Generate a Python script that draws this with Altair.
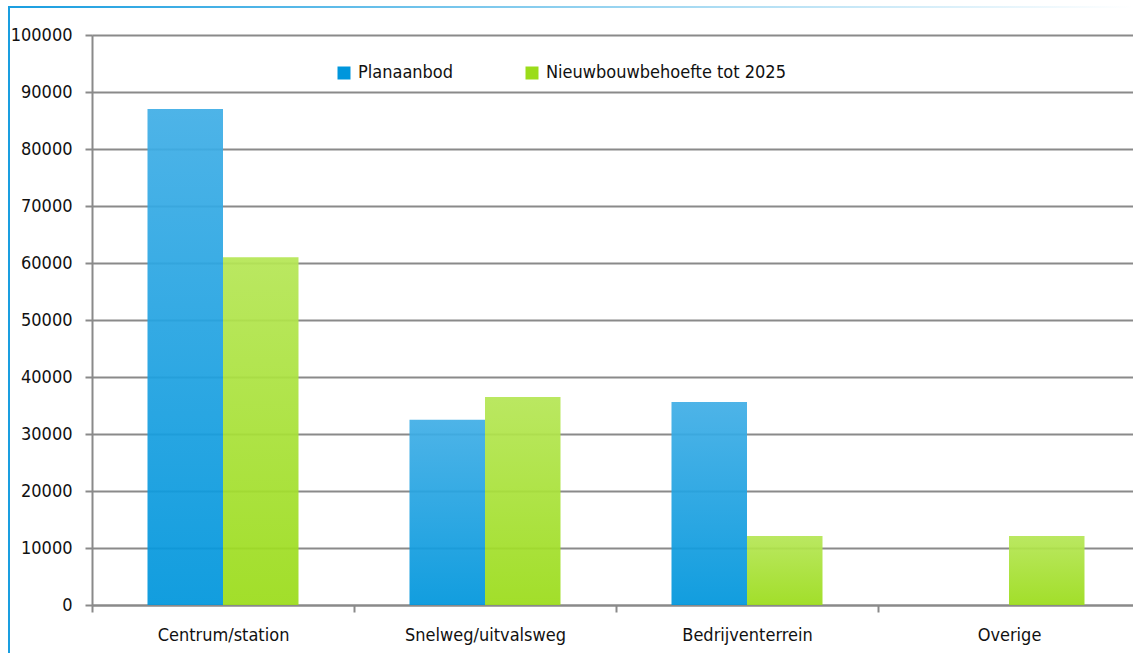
import altair as alt
import pandas as pd

# Floor space per location type (m²)
categories = ["Centrum/station", "Snelweg/uitvalsweg", "Bedrijventerrein", "Overige"]
series_names = ["Planaanbod", "Nieuwbouwbehoefte tot 2025"]
planaanbod = [87000, 32500, 35600, 0]
nieuwbouw = [61000, 36500, 12100, 12100]
y_ticks = [0, 10000, 20000, 30000, 40000, 50000, 60000, 70000, 80000, 90000, 100000]

rows = []
for cat, p, n in zip(categories, planaanbod, nieuwbouw):
    rows.append({"categorie": cat, "reeks": series_names[0], "waarde": p})
    rows.append({"categorie": cat, "reeks": series_names[1], "waarde": n})
df = pd.DataFrame(rows)

FONT = "Liberation Sans Narrow, DejaVu Sans Condensed, Roboto, sans-serif"
BLUE_TOP, BLUE_BOTTOM = "#40aee6", "#0096dc"
GREEN_TOP, GREEN_BOTTOM = "#b5e655", "#9bdc1a"

# visible plot width; the category bands run a little past the right edge
W, H = 1041, 570
BAND_RANGE = 1048

# category bands fill the axis so the ticks sit on the band boundaries;
# the gap around each bar pair comes from the offset scale's outer padding
x_enc = alt.X(
    "categorie:N",
    sort=categories,
    title=None,
    scale=alt.Scale(paddingInner=0, paddingOuter=0, range=[0, BAND_RANGE]),
    axis=alt.Axis(
        labelAngle=0,
        labelFont=FONT,
        labelFontSize=18,
        labelColor="#111111",
        labelPadding=14,
        tickBand="extent",
        tickSize=7,
        tickColor="#8a8a8a",
        tickWidth=2,
        domainColor="#8a8a8a",
        domainWidth=2,
        grid=False,
    ),
)
y_enc = alt.Y(
    "waarde:Q",
    title=None,
    scale=alt.Scale(domain=[0, 100000], nice=False),
    axis=alt.Axis(
        values=y_ticks,
        format="d",
        labelFont=FONT,
        labelFontSize=18,
        labelColor="#111111",
        labelPadding=13,
        tickSize=7,
        tickColor="#8a8a8a",
        tickWidth=2,
        domainColor="#8a8a8a",
        domainWidth=2,
        gridColor="#8a8a8a",
        gridWidth=2,
    ),
)
offset_enc = alt.XOffset("reeks:N", sort=series_names,
                         scale=alt.Scale(domain=series_names, paddingInner=0, paddingOuter=0.735))

base = alt.Chart(df)

# invisible bars that carry the legend
legend_bars = base.mark_bar(opacity=0).encode(
    x=x_enc,
    y=y_enc,
    xOffset=offset_enc,
    color=alt.Color(
        "reeks:N",
        sort=series_names,
        scale=alt.Scale(domain=series_names, range=[BLUE_BOTTOM, GREEN_BOTTOM]),
        legend=alt.Legend(
            title=None,
            orient="none",
            legendX=243,
            legendY=29,
            direction="horizontal",
            symbolType="square",
            symbolSize=169,
            symbolOpacity=1,
            symbolStrokeWidth=0,
            labelFont=FONT,
            labelFontSize=18,
            labelColor="#111111",
            labelOffset=5,
            labelLimit=500,
            columnPadding=69,
            padding=0,
        ),
    ),
)


def gradient(top, bottom):
    return alt.Gradient(
        gradient="linear",
        stops=[alt.GradientStop(color=top, offset=0), alt.GradientStop(color=bottom, offset=1)],
        x1=0, x2=0, y1=0, y2=1,
    )


blue_bars = base.transform_filter(alt.datum.reeks == series_names[0]).mark_bar(
    fill=gradient(BLUE_TOP, BLUE_BOTTOM), fillOpacity=0.93
).encode(x=x_enc, y=y_enc, xOffset=offset_enc)

green_bars = base.transform_filter(alt.datum.reeks == series_names[1]).mark_bar(
    fill=gradient(GREEN_TOP, GREEN_BOTTOM), fillOpacity=0.93
).encode(x=x_enc, y=y_enc, xOffset=offset_enc)

# light blue frame around the figure
frame_src = alt.Chart(pd.DataFrame({"k": [0]}))
frame_left = frame_src.mark_rect(fill="#1a9ee0").encode(
    x=alt.value(-84), x2=alt.value(-82), y=alt.value(-28), y2=alt.value(H + 60)
)
frame_top = frame_src.mark_rect(
    fill=alt.Gradient(
        gradient="linear",
        stops=[alt.GradientStop(color="#1a9ee0", offset=0),
               alt.GradientStop(color="#8fd0ef", offset=0.5),
               alt.GradientStop(color="#ffffff", offset=1)],
        x1=0, x2=1, y1=0, y2=0,
    ),
).encode(x=alt.value(-84), x2=alt.value(W), y=alt.value(-29), y2=alt.value(-27))

chart = alt.layer(legend_bars, blue_bars, green_bars, frame_left, frame_top).properties(
    width=W,
    height=H,
    autosize=alt.AutoSizeParams(type="none"),
    padding={"left": 92, "top": 35, "right": 0, "bottom": 48},
).configure_view(stroke=None).configure(background="white")

chart.save("out.html", embed_options={"renderer": "svg", "actions": False})
